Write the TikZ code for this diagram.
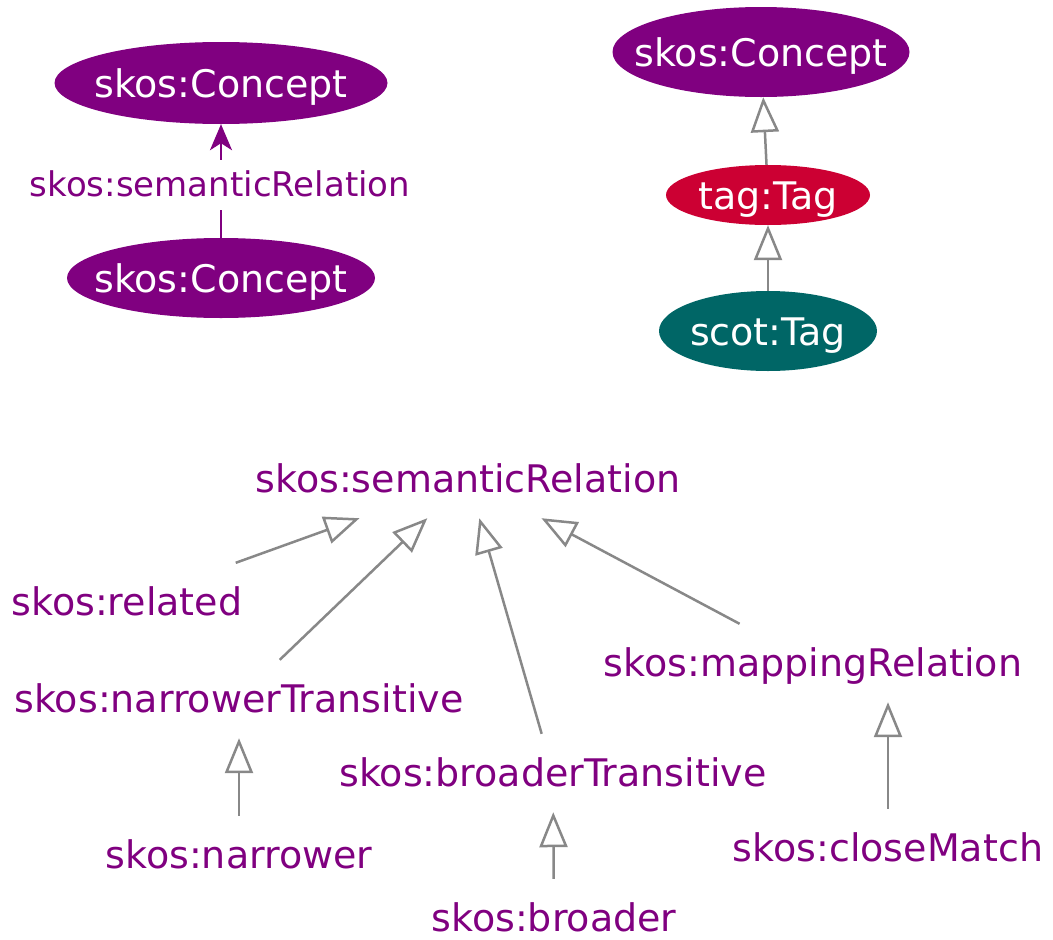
\documentclass[tikz,border=0pt]{standalone}
\usepackage{fontspec}
\setmainfont{DejaVu Sans}
\usepackage{xcolor}
\usepackage{tikz}
\usetikzlibrary{shapes.geometric}
\usetikzlibrary{arrows.meta}
\definecolor{skospurple}{HTML}{800080}
\definecolor{tagred}{HTML}{CC0033}
\definecolor{scotteal}{HTML}{006666}
\definecolor{isagray}{HTML}{888888}

\tikzset{
  classnode/.style={ellipse, inner xsep=-40pt, inner ysep=-20pt, text=white,
    font=\fontsize{38}{46}\selectfont, text height=30pt, text depth=2pt},
  propnode/.style={text=skospurple, font=\fontsize{38}{46}\selectfont,
    text height=30pt, text depth=4pt, inner xsep=4pt, inner ysep=22pt},
  isa/.style={draw=isagray, line width=2.5pt,
    -{Triangle[length=35pt,width=28pt,fill=white]}},
  relarrow/.style={draw=skospurple, line width=2.5pt,
    -{Stealth[length=26pt,width=22pt,inset=7pt]}},
}

\begin{document}
\begin{tikzpicture}[x=1pt,y=-1pt]
    \useasboundingbox (0,0) rectangle (1053,940);

    % Drawing the relation between two concepts
    \node[classnode, fill=skospurple, minimum width=333pt, minimum height=82pt] (conceptA) at (221,83) {skos:Concept};
    \node[classnode, fill=skospurple, minimum width=308pt, minimum height=80pt] (conceptB) at (221,278) {skos:Concept};
    \node[text=skospurple, font=\fontsize{34}{40}\selectfont, text height=28pt, text depth=6pt, inner sep=8pt] (semrelA) at (220,185) {skos:semanticRelation};
    \draw[draw=skospurple, line width=2.5pt] (conceptB) -- (conceptB |- semrelA.south);
    \draw[relarrow] (conceptA |- semrelA.north) -- (conceptA);

    % Drawing the tag classes
    \node[classnode, fill=skospurple, minimum width=297pt, minimum height=90pt] (conceptC) at (761,52) {skos:Concept};
    \node[classnode, fill=tagred, minimum width=204pt, minimum height=60pt] (tagTag) at (768,195) {tag:Tag};
    \node[classnode, fill=scotteal, minimum width=218pt, minimum height=80pt] (scotTag) at (768,331) {scot:Tag};
    \draw[isa] (tagTag) -- (conceptC);
    \draw[isa] (scotTag) -- (tagTag);

    % Drawing the property hierarchy
    \node[propnode] (semrel) at (468,479) {skos:semanticRelation};
    \node[propnode] (related) at (127,602) {skos:related};
    \node[propnode] (narrowerT) at (239,699) {skos:narrowerTransitive};
    \node[propnode] (broaderT) at (553,773) {skos:broaderTransitive};
    \node[propnode] (mapping) at (813,663) {skos:mappingRelation};
    \node[propnode] (narrower) at (239,855) {skos:narrower};
    \node[propnode] (broader) at (554,918) {skos:broader};
    \node[propnode] (closeMatch) at (888,848) {skos:closeMatch};

    \draw[isa] (related) -- (semrel);
    \draw[isa] (narrowerT) -- (semrel);
    \draw[isa] (broaderT) -- (semrel);
    \draw[isa] (mapping) -- (semrel);
    \draw[isa] (narrower) -- (narrowerT);
    \draw[isa] (broader) -- (broaderT);
    \draw[isa] (closeMatch) -- (closeMatch |- mapping.south);
\end{tikzpicture}
\end{document}
